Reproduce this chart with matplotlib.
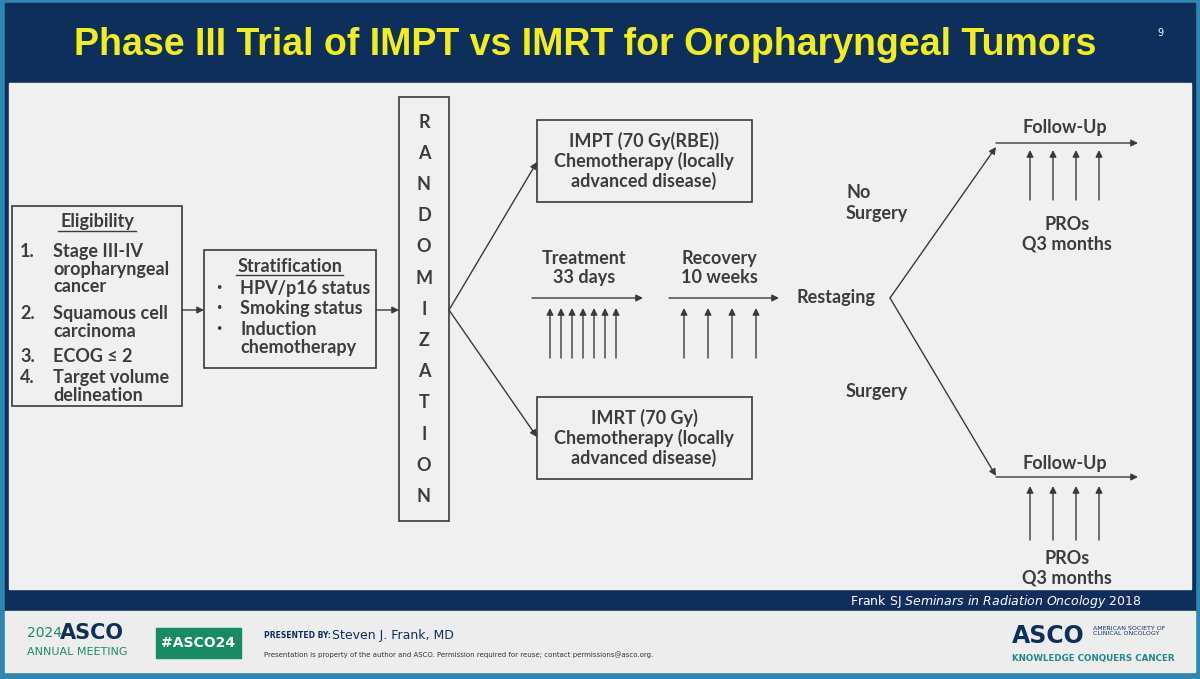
import matplotlib
matplotlib.use("Agg")
import matplotlib.pyplot as plt
from matplotlib.patches import Rectangle, FancyArrowPatch

title = "Phase III Trial of IMPT vs IMRT for Oropharyngeal Tumors"
eligibility = ["Stage III-IV\noropharyngeal\ncancer", "Squamous cell\ncarcinoma", "ECOG ≤ 2", "Target volume\ndelineation"]
stratification = ["HPV/p16 status", "Smoking status", "Induction\nchemotherapy"]
rand_letters = list("RANDOMIZATION")
arm_texts = ["IMPT (70 Gy(RBE))\nChemotherapy (locally\nadvanced disease)", "IMRT (70 Gy)\nChemotherapy (locally\nadvanced disease)"]
treat_arrows_x = [550, 561, 572, 583, 594, 605, 616]
recov_arrows_x = [684, 708, 732, 756]
pro_arrows_x = [1030, 1053, 1076, 1099]

fig = plt.figure(figsize=(12, 6.79), dpi=100)
ax = fig.add_axes([0, 0, 1, 1])
ax.set_xlim(0, 1200); ax.set_ylim(679, 0); ax.axis("off")
TC = "#3c3c3c"
ax.add_patch(Rectangle((0, 0), 1200, 679, color="#2f86b0"))
ax.add_patch(Rectangle((5, 3), 1190, 608, color="#0e2f5c"))
ax.add_patch(Rectangle((9, 83), 1182, 506, color="#f0f0f0"))
ax.add_patch(Rectangle((5, 611), 1190, 61, color="#ededed"))
ax.text(585, 45, title, color="#f2ee1e", fontsize=27, fontweight="bold", ha="center", va="center",
        family="Liberation Sans")
ax.text(1160, 33, "9", color="white", fontsize=7, ha="center", va="center")
ax.text(1142, 601, "Frank SJ $\\it{Seminars\\ in\\ Radiation\\ Oncology\\ 2018}$", color="white",
        fontsize=9, ha="right", va="center")
# footer
ax.text(27, 633, "2024", color="#1f8a6b", fontsize=10, va="center")
ax.text(60, 633, "ASCO", color="#0e2f5c", fontsize=15, fontweight="bold", va="center")
ax.text(27, 652, "ANNUAL MEETING", color="#1f8a6b", fontsize=8, va="center")
ax.add_patch(Rectangle((156, 628), 85, 30, color="#178a66"))
ax.text(198, 643, "#ASCO24", color="white", fontsize=10, fontweight="bold", ha="center", va="center")
ax.text(264, 635, "PRESENTED BY:", color="#0e2f5c", fontsize=5.5, fontweight="bold", va="center")
ax.text(332, 635, "Steven J. Frank, MD", color="#0e2f5c", fontsize=9, va="center")
ax.text(264, 655, "Presentation is property of the author and ASCO. Permission required for reuse; contact permissions@asco.org.",
        color="#333333", fontsize=5, va="center")
ax.text(1012, 636, "ASCO", color="#0e2f5c", fontsize=17, fontweight="bold", va="center")
ax.text(1093, 631, "AMERICAN SOCIETY OF\nCLINICAL ONCOLOGY", color="#0e2f5c", fontsize=4.5, va="center", linespacing=1.1)
ax.text(1012, 659, "KNOWLEDGE CONQUERS CANCER", color="#1f8a8a", fontsize=6.3, fontweight="bold", va="center")

def box(x, y, w, h):
    ax.add_patch(Rectangle((x, y), w, h, fill=False, ec="#3a3a3a", lw=1.2))

def arrow(x1, y1, x2, y2):
    ax.add_patch(FancyArrowPatch((x1, y1), (x2, y2), arrowstyle="-|>", mutation_scale=10,
                                 color="#3a3a3a", lw=1.0, shrinkA=0, shrinkB=0))

kw = dict(color=TC, fontsize=13, fontweight="bold", family="Lato")
box(12, 206, 170, 200)
ax.text(97, 222, "Eligibility", ha="center", va="center", **kw)
ax.plot([58, 136], [231, 231], color=TC, lw=1)
ys = [243, 305, 348, 369]
for i, (t, y) in enumerate(zip(eligibility, ys)):
    ax.text(20, y, f"{i+1}.", va="top", **kw)
    ax.text(53, y, t, va="top", linespacing=1.05, **kw)
box(204, 250, 172, 118)
ax.text(290, 266, "Stratification", ha="center", va="center", **kw)
ax.plot([236, 343], [275, 275], color=TC, lw=1)
for t, y in zip(stratification, [280, 300, 321]):
    ax.text(215, y + 2, "•", va="top", color=TC, fontsize=9)
    ax.text(240, y, t, va="top", linespacing=1.05, **kw)
box(399, 97, 50, 424)
for i, c in enumerate(rand_letters):
    ax.text(424, 122 + i * 31.2, c, ha="center", va="center", **kw)
box(537, 120, 215, 82)
box(537, 397, 215, 82)
ax.text(644, 161, arm_texts[0], ha="center", va="center", linespacing=1.15, **kw)
ax.text(644, 438, arm_texts[1], ha="center", va="center", linespacing=1.15, **kw)
arrow(182, 310, 204, 310)
arrow(376, 310, 399, 310)
arrow(449, 310, 537, 162)
arrow(449, 310, 537, 437)
ax.text(584, 268, "Treatment\n33 days", ha="center", va="center", linespacing=1.1, **kw)
arrow(532, 298, 643, 298)
for x in treat_arrows_x:
    arrow(x, 358, x, 308)
ax.text(719, 268, "Recovery\n10 weeks", ha="center", va="center", linespacing=1.1, **kw)
arrow(669, 298, 779, 298)
for x in recov_arrows_x:
    arrow(x, 358, x, 308)
ax.text(836, 298, "Restaging", ha="center", va="center", **kw)
ax.text(846, 203, "No\nSurgery", va="center", linespacing=1.3, **kw)
ax.text(846, 391, "Surgery", va="center", **kw)
arrow(890, 298, 996, 147)
arrow(890, 298, 996, 476)
for yl, yt, ya, yp in [(143, 128, (200, 150), 234), (477, 464, (540, 486), 568)]:
    ax.text(1065, yt, "Follow-Up", ha="center", va="center", **kw)
    arrow(996, yl, 1138, yl)
    for x in pro_arrows_x:
        arrow(x, ya[0], x, ya[1])
    ax.text(1067, yp, "PROs\nQ3 months", ha="center", va="center", linespacing=1.2, **kw)
fig.savefig("out.png", dpi=100)
